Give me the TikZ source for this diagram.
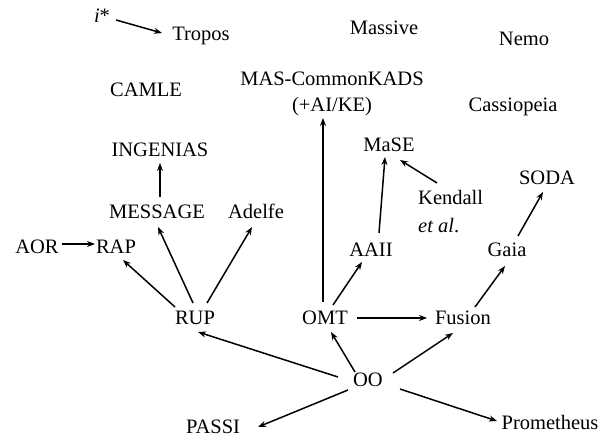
\documentclass[tikz,border=0pt]{standalone}
\usepackage{fontspec}
\setmainfont{Liberation Serif}
\usetikzlibrary{arrows.meta,calc}
\tikzset{
  lbl/.style={font=\fontsize{20.5}{26}\selectfont, inner sep=0pt},
  nd/.style={lbl, text height=14pt, text depth=0pt, inner sep=3pt},
  arr/.style={line width=1.5pt, -{Stealth[length=8pt,width=6pt]}},
}
\begin{document}
\begin{tikzpicture}[x=1pt,y=-1pt]
\path[use as bounding box] (0,0) rectangle (603,438);
% nodes
\node[nd] (istar) at (102,16) {\textit{i}*};
\node[nd] (tropos) at (201,34) {Tropos};
\node[nd] (massive) at (384,28) {Massive};
\node[nd] (nemo) at (524,39) {Nemo};
\node[nd] (camle) at (146,90) {CAMLE};
\node[lbl, align=center] (mas) at (332,94) {MAS-CommonKADS\\(+AI/KE)};
\node[nd] (cass) at (513,105) {Cassiopeia};
\node[nd] (ingenias) at (160,150) {INGENIAS};
\node[nd] (mase) at (389,145) {MaSE};
\node[nd] (message) at (157,212) {MESSAGE};
\node[nd] (adelfe) at (256,212) {Adelfe};
\node[lbl, align=left, anchor=north west] (kendall) at (418,190) {Kendall\\[2pt]\textit{et al}.};
\node[nd] (soda) at (547,178) {SODA};
\node[nd] (aor) at (37,247) {AOR};
\node[nd] (rap) at (116,247) {RAP};
\node[nd] (aaii) at (371,250) {AAII};
\node[nd] (gaia) at (507,250) {Gaia};
\node[nd] (rup) at (195,318) {RUP};
\node[nd] (omt) at (325,318) {OMT};
\node[nd] (fusion) at (463,318) {Fusion};
\node[nd] (oo) at (368,380) {OO};
\node[nd] (passi) at (213,427) {PASSI};
\node[nd] (prom) at (550,423) {Prometheus};
% connectors
\draw[arr] ($(istar)+(14,4)$) -- ($(tropos)+(-39,-1)$);
\draw[arr] ($(aor)+(25,-3)$) -- ($(rap)+(-21,-3)$);
\draw[arr] ($(message)+(3,-15)$) -- ($(ingenias)+(0,13)$);
\draw[arr] ($(rup)+(-20,-11)$) -- ($(rap)+(7,13)$);
\draw[arr] ($(rup)+(-2,-15)$) -- ($(message)+(1,15)$);
\draw[arr] ($(rup)+(12,-15)$) -- ($(adelfe)+(-4,15)$);
\draw[arr] ($(omt)+(-2,-16)$) -- ($(mas)+(-9,24)$);
\draw[arr] ($(omt)+(8,-13)$) -- ($(aaii)+(-9,12)$);
\draw[arr] ($(omt)+(32,0)$) -- ($(fusion)+(-36,0)$);
\draw[arr] ($(aaii)+(8,-17)$) -- ($(mase)+(-4,12)$);
\draw[arr] ($(kendall.north west)+(19,-7)$) -- ($(mase)+(11,15)$);
\draw[arr] ($(fusion)+(12,-11)$) -- ($(gaia)+(-2,16)$);
\draw[arr] ($(gaia)+(11,-14)$) -- ($(soda)+(-4,14)$);
\draw[arr] ($(oo)+(-30,-3)$) -- ($(rup)+(3,14)$);
\draw[arr] ($(oo)+(-13,-8)$) -- ($(omt)+(6,14)$);
\draw[arr] ($(oo)+(25,-7)$) -- ($(fusion)+(-10,15)$);
\draw[arr] ($(oo)+(-20,10)$) -- ($(passi)+(45,0)$);
\draw[arr] ($(oo)+(32,9)$) -- ($(prom)+(-53,-2)$);
\end{tikzpicture}
\end{document}
